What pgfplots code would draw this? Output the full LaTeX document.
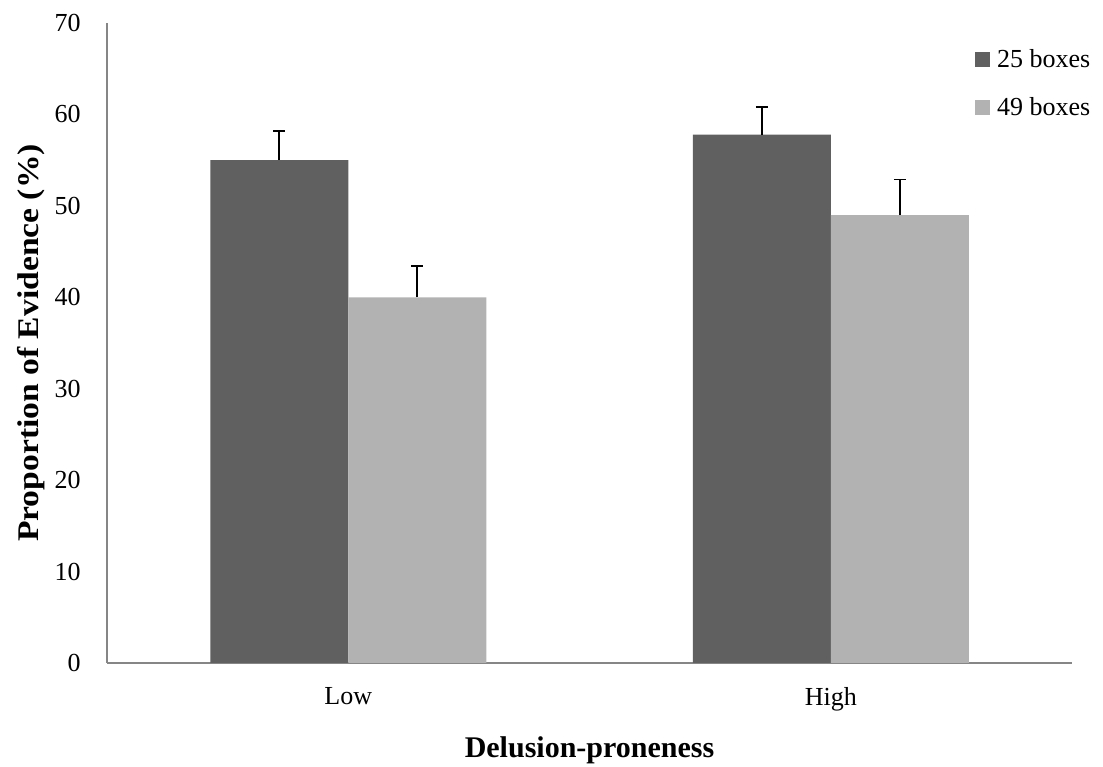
\documentclass[border=0pt]{standalone}
\usepackage{fontspec}
\setmainfont{Liberation Serif}
\newfontfamily\ylabfont{Liberation Serif}[FakeStretch=1.12]
\usepackage{pgfplots}
\pgfplotsset{compat=1.18}
\definecolor{darkbar}{RGB}{96,96,96}
\definecolor{lightbar}{RGB}{178,178,178}
\definecolor{axisgray}{RGB}{134,134,134}
\begin{document}
\begin{tikzpicture}
\path[use as bounding box] (-80.25pt,-78pt) rectangle (747pt,497.25pt);
\begin{axis}[
  at={(0pt,0pt)}, anchor=south west,
  scale only axis, width=723.75pt, height=480pt,
  ymin=0, ymax=70, ytick={0,10,...,70},
  xmin=-0.5, xmax=1.5, xtick={0,1}, xticklabels={Low,High},
  ybar=0pt, bar width=103.5pt,
  axis x line*=bottom, axis y line*=left,
  axis line style={axisgray, line width=1pt},
  major tick length=0pt,
  tick label style={font=\fontsize{19.5}{23}\selectfont},
  /pgf/number format/assume math mode=true,
  yticklabel style={inner sep=0pt, xshift=-19.5pt},
  xticklabel style={inner sep=0pt, anchor=north, yshift=-18pt},
  xlabel={Delusion-proneness},
  ylabel={Proportion of Evidence (\%)},
  xlabel style={font=\bfseries\fontsize{22.5}{27}\selectfont, at={(axis description cs:0.5,0)}, anchor=north, inner sep=0pt, yshift=-55.3pt},
  ylabel style={font=\ylabfont\bfseries\fontsize{22.5}{27}\selectfont, at={(axis description cs:-0.0705,0.5)}, anchor=base, inner sep=0pt},
  legend image code/.code={\fill[#1] (0pt,-5.85pt) rectangle (11.25pt,5.4pt);},
  legend style={at={(axis description cs:0.8995,0.95625)}, anchor=north west,
    draw=none, fill=none, inner sep=0pt, outer sep=0pt,
    row sep=23.85pt, column sep=5.25pt,
    font=\fontsize{19.5}{23}\selectfont,
    nodes={inner sep=0pt, text height=12.15pt, text depth=0pt}},
  legend cell align=left,
]
\addplot[fill=darkbar, draw=none,
  error bars/.cd, y dir=plus, y explicit,
  error bar style={draw=black, line width=1.2pt},
  error mark options={rotate=90, draw=black, mark size=4.5pt, line width=1.2pt}]
  coordinates {(0,55.0) +- (0,3.2) (1,57.8) +- (0,3.0)};
\addplot[fill=lightbar, draw=none,
  error bars/.cd, y dir=plus, y explicit,
  error bar style={draw=black, line width=1.2pt},
  error mark options={rotate=90, draw=black, mark size=4.5pt, line width=1.2pt}]
  coordinates {(0,40.0) +- (0,3.4) (1,49.0) +- (0,3.9)};
\legend{25 boxes, 49 boxes}
\end{axis}
\end{tikzpicture}
\end{document}
